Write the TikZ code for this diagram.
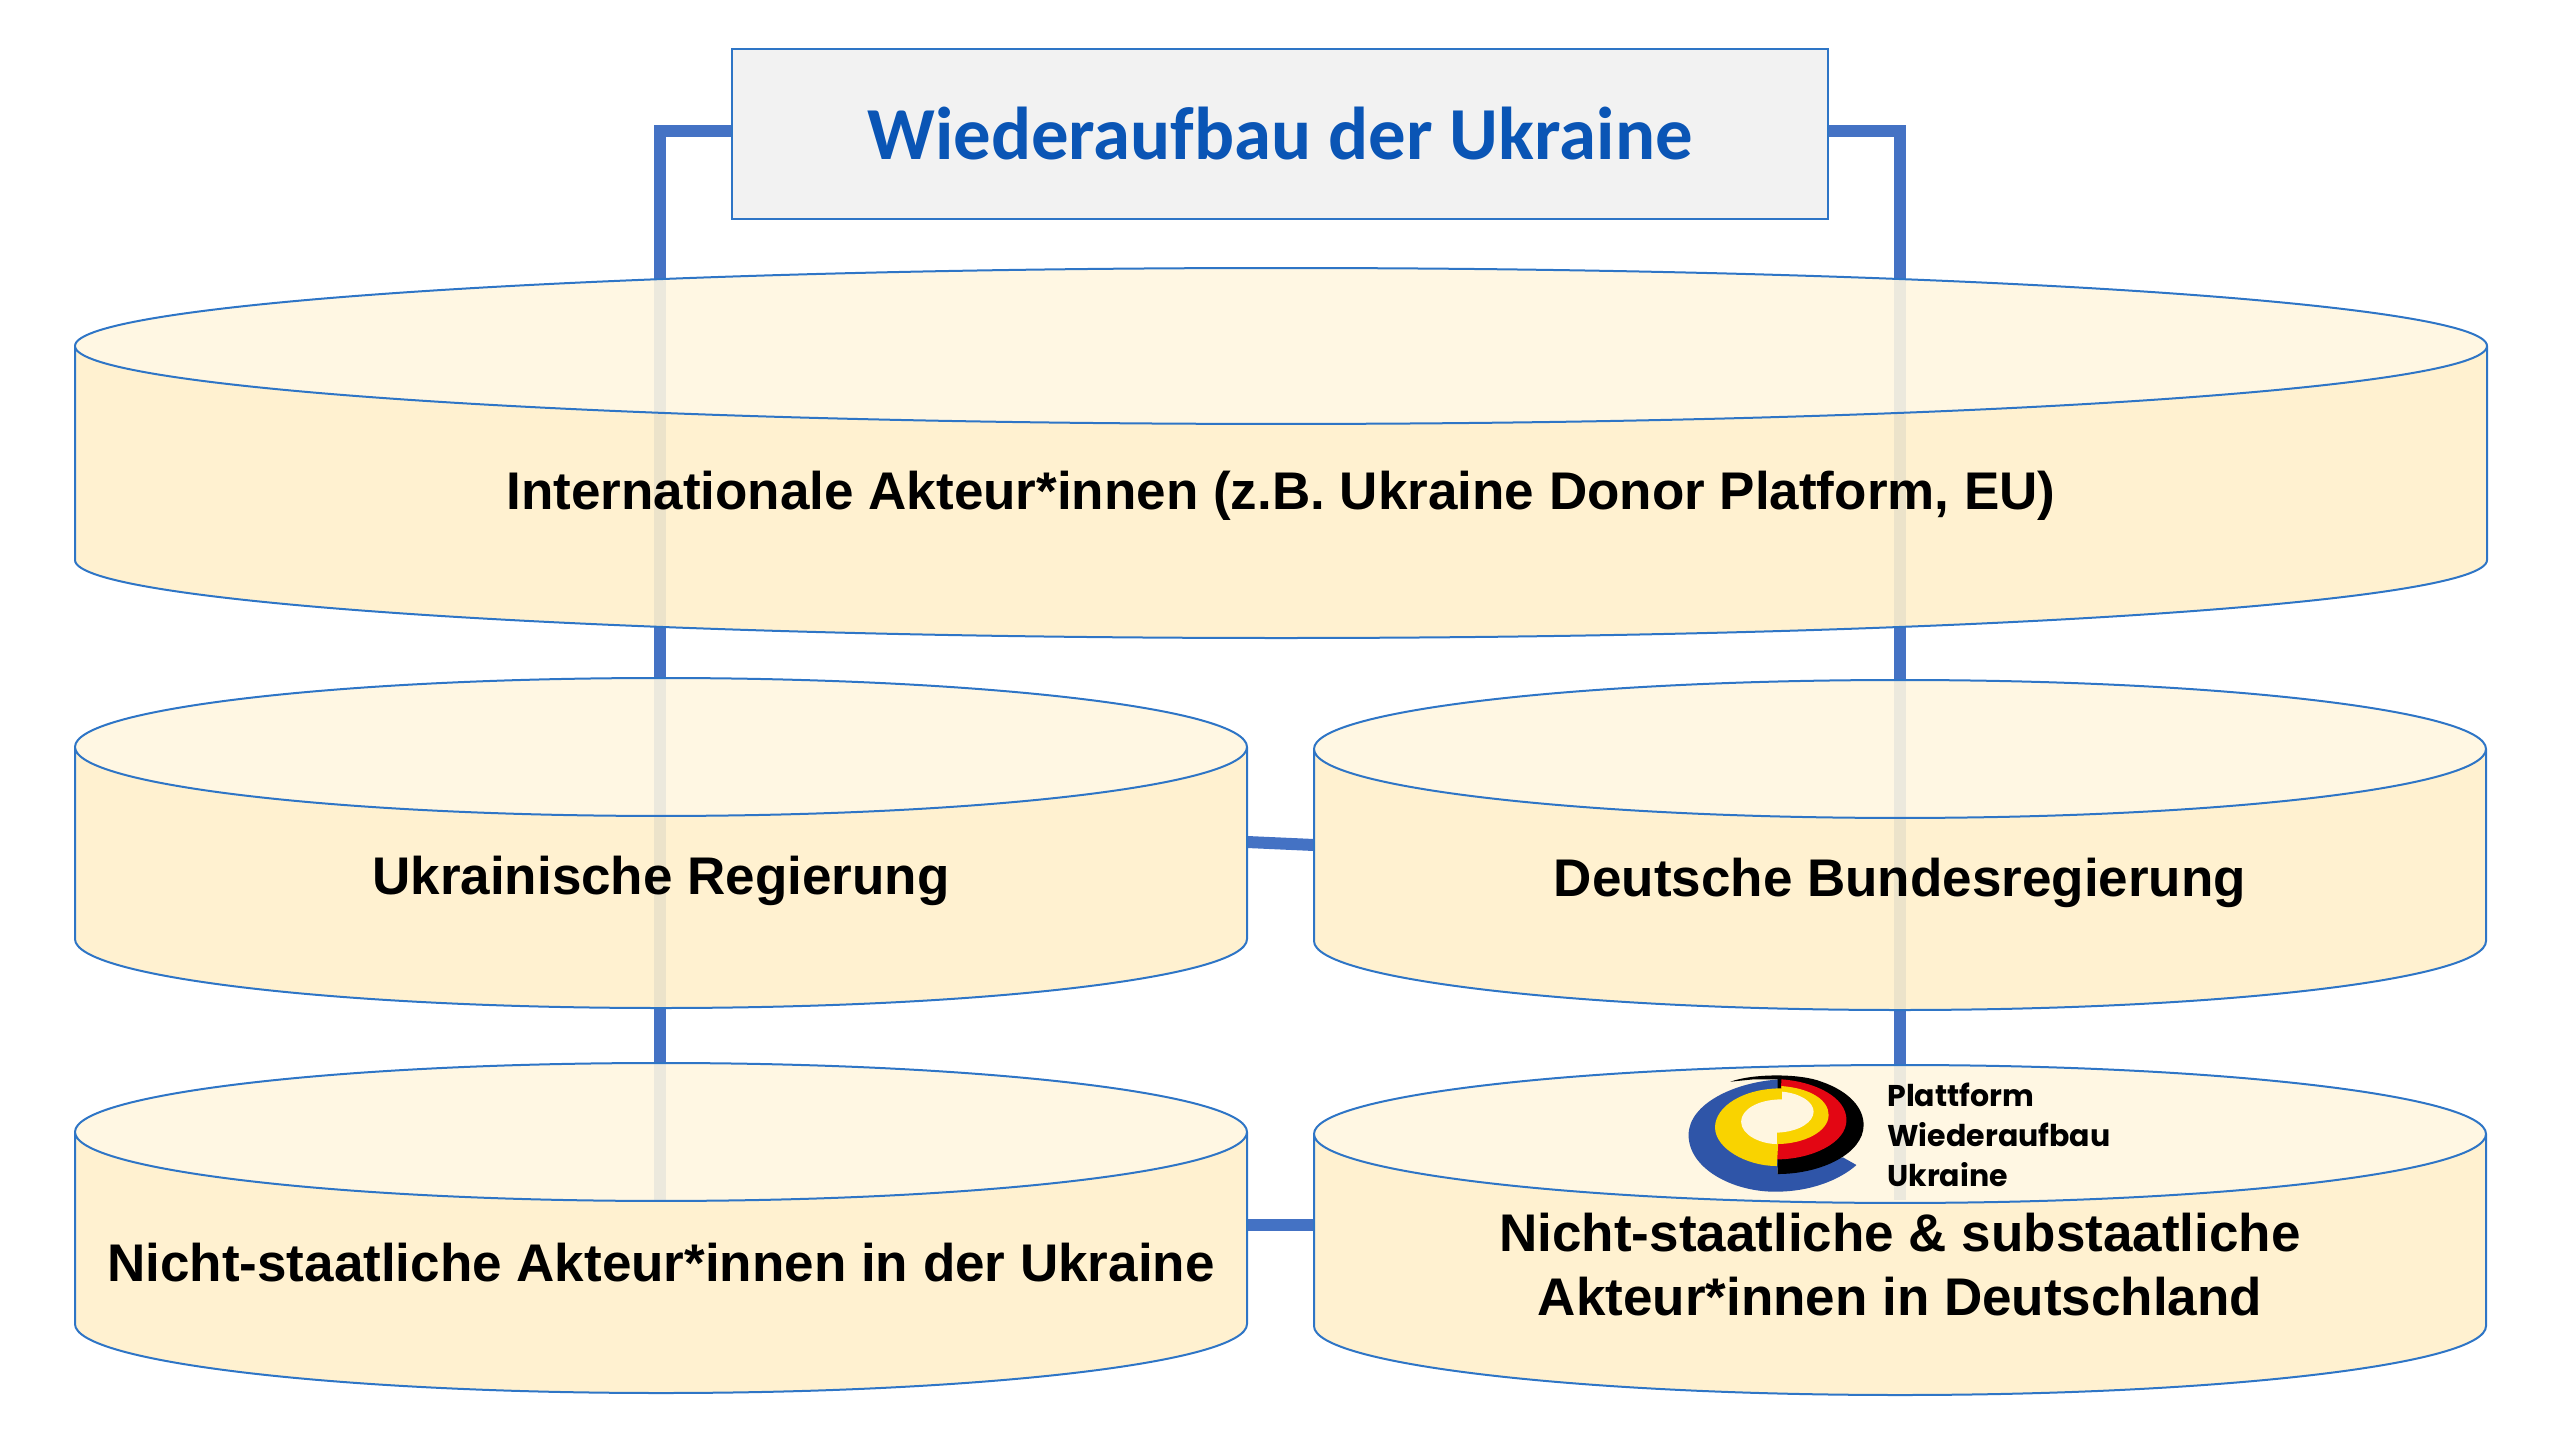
\documentclass[tikz,border=0pt]{standalone}
\usepackage{fontspec}
\setmainfont{Liberation Sans}
\newfontfamily\titlefont[Ligatures=NoCommon]{Carlito}
\newfontfamily\logofont{Poppins}
\usetikzlibrary{shapes.geometric, backgrounds}
\definecolor{linkblue}{HTML}{4472C4}
\definecolor{rimblue}{HTML}{2E75C6}
\definecolor{titleblue}{HTML}{0A55B5}
\definecolor{capfill}{HTML}{FFF6E0}
\definecolor{bodyfill}{HTML}{FFF0CB}
\definecolor{logoblue}{HTML}{2F55A8}
\definecolor{logoyellow}{HTML}{F9D300}
\definecolor{logored}{HTML}{E30613}
\newcommand{\tallline}{\rule{0pt}{22.5pt}}

\begin{document}
\begin{tikzpicture}[x=0.5pt, y=-0.5pt, auto]
  \tikzstyle{titlebox} = [draw=rimblue, line width=1pt, fill=black!5, minimum width=548pt, minimum height=85pt,
    inner sep=0pt, text=titleblue, font=\titlefont\fontsize{37.4}{40}\selectfont\bfseries]
  \tikzstyle{disc} = [cylinder, shape border rotate=90, draw=rimblue, line width=1pt, inner sep=0pt, outer sep=0pt,
    anchor=shape center, cylinder uses custom fill, cylinder end fill=capfill, cylinder body fill=bodyfill,
    fill opacity=0.9, text opacity=1, align=flush center, font=\fontsize{26.5}{32}\selectfont\bfseries]
  \tikzstyle{wide} = [disc, minimum width=1206pt, minimum height=185pt, text width=790pt, aspect=0.0987]
  \tikzstyle{half} = [disc, minimum width=586pt, minimum height=165pt, text width=570pt, aspect=0.121]
  \tikzstyle{logotext} = [anchor=west, inner sep=0pt, font=\logofont\fontsize{15}{20}\selectfont\bfseries]
  \tikzstyle{link} = [draw=linkblue, line width=6pt]
  \tikzstyle{tmp} = [coordinate]
  \useasboundingbox (0,0) rectangle (2560,1440);

  \node [titlebox] (title) at (1280,134) {Wiederaufbau der Ukraine};
  \node [wide] (intl) at (1281,453) {\tallline Internationale Akteur*innen (z.B. Ukraine Donor Platform, EU)};
  \node [half] (uaGov) at (661,843) {\tallline Ukrainische Regierung};
  \node [half] (deGov) at (1900,845) {\tallline Deutsche Bundesregierung};
  \node [half] (uaNgo) at (661,1228) {Nicht-staatliche Akteur*innen in der Ukraine};
  \node [half] (deNgo) at (1900,1230) {Nicht-staatliche \& substaatliche\\Akteur*innen in Deutschland};

  \node [tmp] (leftEnd) at (660,1200) {};
  \node [tmp] (rightEnd) at (1900,1200) {};
  \begin{pgfonlayer}{background}
    \draw [link] (title.west |- 0,131) -| (leftEnd);
    \draw [link] (title.east |- 0,131) -| (rightEnd);
    \draw [link] (uaGov.east |- 0,842) -- (deGov.west |- 0,845);
    \draw [link] (uaNgo.east |- 0,1225) -- (deNgo.west |- 0,1225);
  \end{pgfonlayer}

  % logo
  \begin{scope}[shift={(1600,1040)}, x=0.1786pt, y=-0.1667pt]
    \fill [logoblue] (505,118) .. controls (380,125) and (248,190) .. (248,285) .. controls (248,385) and (370,455) .. (490,455)
      .. controls (590,455) and (670,420) .. (718,375) -- (680,352) -- (497,402) -- cycle;
    \fill [black] (365,125) .. controls (430,100) and (560,100) .. (620,125) .. controls (700,155) and (738,205) .. (738,255)
      .. controls (738,340) and (620,402) .. (497,402) -- (497,118) -- (430,118) -- cycle;
    \fill [logored] (508,118) .. controls (600,125) and (690,170) .. (690,240) .. controls (690,310) and (590,358) .. (495,358) -- cycle;
    \fill [logoyellow] (508,145) .. controls (400,145) and (322,200) .. (322,262) .. controls (322,325) and (410,378) .. (495,378) -- cycle;
    \fill [logoyellow] (508,138) .. controls (590,145) and (640,180) .. (640,225) .. controls (640,275) and (570,312) .. (495,312) -- cycle;
    \fill [capfill] (510,178) .. controls (440,178) and (395,210) .. (395,245) .. controls (395,285) and (450,312) .. (495,312) -- (495,278)
      .. controls (560,275) and (598,245) .. (598,215) .. controls (598,185) and (560,160) .. (510,155) -- cycle;
  \end{scope}
  \node [logotext] (logoA) at (1887,1095) {Plattform};
  \node [logotext] (logoB) at (1887,1135) {Wiederaufbau};
  \node [logotext] (logoC) at (1887,1175) {Ukraine};
\end{tikzpicture}
\end{document}
